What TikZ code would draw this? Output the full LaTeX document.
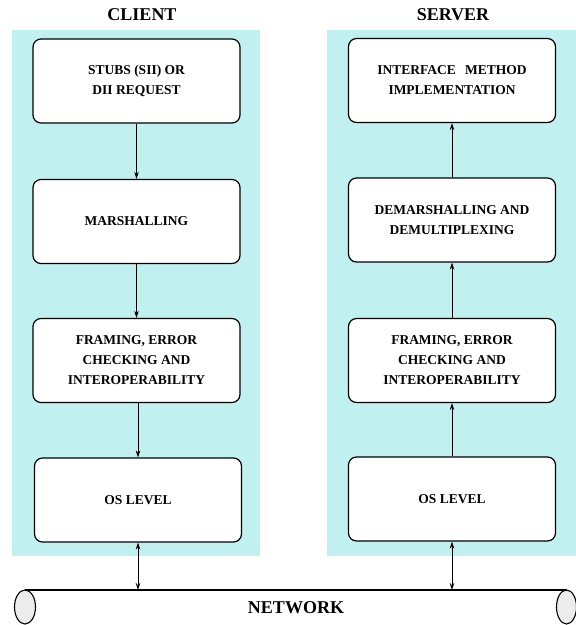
\documentclass[tikz,border=0pt]{standalone}
\usepackage{fontspec}
\setmainfont{Liberation Serif}
\usetikzlibrary{arrows.meta}
\definecolor{panelcyan}{RGB}{192,240,240}
\definecolor{pipegray}{RGB}{236,236,236}
\tikzset{
  panel/.style={fill=panelcyan, draw=none},
  layerbox/.style={draw=black, line width=1.2pt, fill=white, rounded corners=8pt,
    minimum width=207pt, minimum height=84pt, align=center,
    font=\fontsize{13.5}{20}\selectfont\bfseries},
  heading/.style={font=\fontsize{18}{20}\selectfont\bfseries},
  flow/.style={line width=0.9pt, -{Stealth[length=7pt,width=4.5pt]}},
  biflow/.style={line width=0.9pt, {Stealth[length=7pt,width=4.5pt]}-{Stealth[length=7pt,width=4.5pt]}},
  pipe/.style={draw=black, line width=1.1pt},
}
\begin{document}
\begin{tikzpicture}[x=1pt,y=-1pt]
  \useasboundingbox (0,0) rectangle (576,625);
  \clip (0,0) rectangle (576,625);

  % side panels
  \fill[panel] (12,30) rectangle (260,556);
  \fill[panel] (327,30) rectangle (576,556);

  % headings
  \node[heading] (clienthead) at (142,15) {CLIENT};
  \node[heading] (serverhead) at (453,15) {SERVER};

  % client stack
  \node[layerbox] (c1) at (136.5,81)  {STUBS (SII) OR\\DII REQUEST};
  \node[layerbox] (c2) at (136.5,221.5) {MARSHALLING};
  \node[layerbox] (c3) at (136.5,360.5) {FRAMING, ERROR\\CHECKING AND\\INTEROPERABILITY};
  \node[layerbox] (c4) at (138,500) {OS LEVEL};

  % server stack
  \node[layerbox] (s1) at (452,80.5) {INTERFACE\hspace{0.45em} METHOD\\IMPLEMENTATION};
  \node[layerbox] (s2) at (452,220) {DEMARSHALLING AND\\DEMULTIPLEXING};
  \node[layerbox] (s3) at (452,360.5) {FRAMING, ERROR\\CHECKING AND\\INTEROPERABILITY};
  \node[layerbox] (s4) at (452,499) {OS LEVEL};

  % client flow (downwards)
  \draw[flow] (c1) -- (c2);
  \draw[flow] (c2) -- (c3);
  \draw[flow] (c3.south -| c4) -- (c4);

  % server flow (upwards)
  \draw[flow] (s4) -- (s3);
  \draw[flow] (s3) -- (s2);
  \draw[flow] (s2) -- (s1);

  % network pipe
  \coordinate (netL) at (25,590);
  \coordinate (netR) at (566.5,590);
  \draw[pipe, fill=pipegray] (25,607) ellipse [x radius=10.5, y radius=17];
  \draw[pipe, fill=pipegray] (566.5,607) ellipse [x radius=10, y radius=17];
  \draw[pipe] (netL) -- (netR);
  \node[heading] (net) at (296,608) {NETWORK};

  % links to the network
  \coordinate (cnet) at (c4.south |- netL);
  \coordinate (snet) at (s4.south |- netL);
  \draw[biflow] (c4.south) -- (cnet);
  \draw[biflow] (s4.south) -- (snet);
\end{tikzpicture}
\end{document}
